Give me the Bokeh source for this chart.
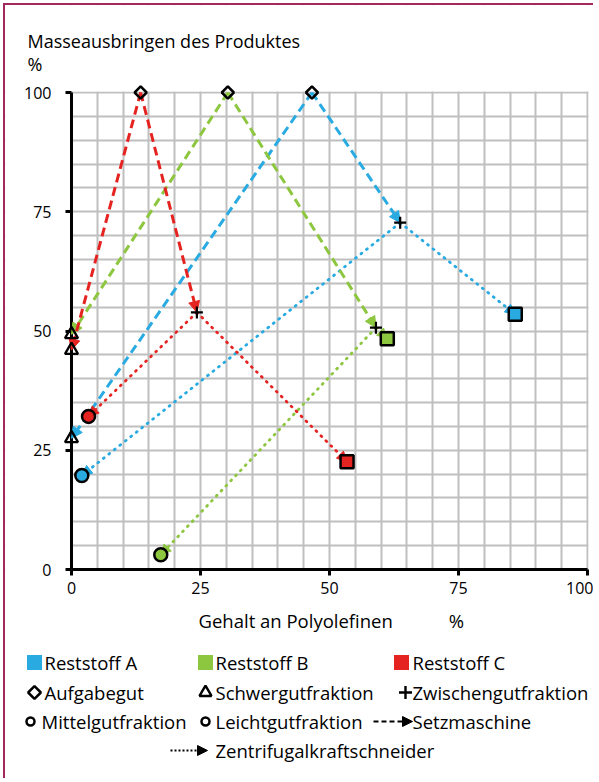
from bokeh.plotting import figure
from bokeh.models import (Range1d, FixedTicker, Arrow, NormalHead, Label, BoxAnnotation,
                          LinearAxis, Grid)
from bokeh.embed import file_html
from bokeh.resources import INLINE

# ---------------- data ----------------
materials = ["Reststoff A", "Reststoff B", "Reststoff C"]
colors = ["#29ABE2", "#8DC63F", "#E52421"]
feed_x = [46.6, 30.3, 13.4]          # Aufgabegut
feed_y = [100.0, 100.0, 100.0]
heavy_x = [0.0, 0.0, 0.0]            # Schwergutfraktion
heavy_y = [27.5, 49.3, 46.0]
inter_x = [63.7, 59.0, 24.3]         # Zwischengutfraktion
inter_y = [72.7, 50.7, 53.9]
middle_x = [2.0, 17.3, 3.3]          # Mittelgutfraktion
middle_y = [19.7, 3.1, 32.1]
light_x = [86.0, 61.2, 53.4]         # Leichtgutfraktion
light_y = [53.5, 48.4, 22.6]
axis_ticks = [0, 25, 50, 75, 100]
grid_ticks = list(range(0, 101, 5))
fraction_labels = ["Aufgabegut", "Schwergutfraktion", "Zwischengutfraktion",
                   "Mittelgutfraktion", "Leichtgutfraktion"]
process_labels = ["Setzmaschine", "Zentrifugalkraftschneider"]
x_title = "Gehalt an Polyolefinen"
y_title = "Masseausbringen des Produktes"
unit = "%"

# ---------------- layout constants (pixels) ----------------
FONT = "Open Sans"
BORDER = "#A3285F"
W, H = 590, 775
X0_PX, X100_PX = 66, 582        # pixel position of x = 0 / 100
Y100_PX, Y0_PX = 87, 564        # pixel position of y = 100 / 0
PXX = (X100_PX - X0_PX) / 100.0
PXY = (Y0_PX - Y100_PX) / 100.0

p = figure(width=W, height=H,
           x_range=Range1d(-X0_PX / PXX, (W - X0_PX) / PXX),
           y_range=Range1d(-(H - Y0_PX) / PXY, 100 + Y100_PX / PXY),
           x_axis_type=None, y_axis_type=None,
           toolbar_location=None, output_backend="svg", min_border=0)
p.extra_x_ranges = {"px": Range1d(0, W)}
p.extra_y_ranges = {"px": Range1d(H, 0)}
p.outline_line_color = None
p.background_fill_color = "white"
p.border_fill_color = "white"
p.grid.visible = False

for dim in (0, 1):
    p.add_layout(Grid(dimension=dim, ticker=FixedTicker(ticks=grid_ticks), bounds=(0, 100),
                      grid_line_color="#BFBFBF", grid_line_width=2))

# mask the grid outside the 0..100 square
for kw in (dict(right=0), dict(left=100 + 1.0 / PXX), dict(top=0), dict(bottom=100 + 1.0 / PXY)):
    p.add_layout(BoxAnnotation(fill_color="white", fill_alpha=1, line_color=None,
                               level="underlay", **kw))


def style_axis(ax):
    ax.ticker = FixedTicker(ticks=axis_ticks)
    ax.bounds = (0, 100)
    ax.fixed_location = 0
    ax.axis_line_width = 3
    ax.axis_line_color = "black"
    ax.major_tick_line_width = 3
    ax.major_tick_line_color = "black"
    ax.major_tick_in = 0
    ax.major_tick_out = 6
    ax.minor_tick_line_color = None
    ax.major_label_text_font = FONT
    ax.major_label_text_font_size = "16px"
    ax.major_label_text_color = "black"


xaxis = LinearAxis(major_label_standoff=6)
style_axis(xaxis)
p.add_layout(xaxis, "below")
yaxis = LinearAxis(major_label_standoff=14)
style_axis(yaxis)
p.add_layout(yaxis, "left")


def add_arrow(x0, y0, x1, y1, color, dash, width, cap, head, rng="default"):
    kw = {} if rng == "default" else dict(x_range_name=rng, y_range_name=rng)
    p.add_layout(Arrow(end=NormalHead(size=head, fill_color=color, line_color=color, line_width=1),
                       x_start=x0, y_start=y0, x_end=x1, y_end=y1,
                       line_color=color, line_width=width, line_dash=dash, line_cap=cap, **kw))


for i, c in enumerate(colors):
    # Setzmaschine (dashed)
    add_arrow(feed_x[i], feed_y[i], heavy_x[i], heavy_y[i], c, "9 5", 3, "butt", 11)
    add_arrow(feed_x[i], feed_y[i], inter_x[i], inter_y[i], c, "9 5", 3, "butt", 11)
    # Zentrifugalkraftschneider (dotted)
    add_arrow(inter_x[i], inter_y[i], light_x[i], light_y[i], c, "1 6", 2.8, "round", 10)
    add_arrow(inter_x[i], inter_y[i], middle_x[i], middle_y[i], c, "1 6", 2.8, "round", 10)

p.scatter(feed_x, feed_y, marker="square", angle=0.7854, size=8.5, fill_alpha=0,
          line_color="black", line_width=2.5, level="overlay")
p.scatter(heavy_x, heavy_y, marker="triangle", size=13, fill_alpha=0,
          line_color="black", line_width=2.3, level="overlay")
p.scatter(inter_x, inter_y, marker="cross", size=12, line_color="black", line_width=2.2, level="overlay")
p.scatter(middle_x, middle_y, marker="circle", size=13, fill_color=colors,
          line_color="black", line_width=2.5, level="overlay")
p.scatter(light_x, light_y, marker="square", size=13, fill_color=colors,
          line_color="black", line_width=2.5, level="overlay")


def text(x, y, t, size="18.5px", align="left"):
    p.add_layout(Label(x=x, y=y, text=t, text_font=FONT, text_font_size=size,
                       text_baseline="middle", text_align=align, text_color="black",
                       x_range_name="px", y_range_name="px"))


# axis titles (pixel space)
text(22, 35, y_title, "18px")
text(22, 58, unit, "18px")
text(193, 615, x_title)
text(451, 615, unit, align="center")

# ---------------- legend (pixel space) ----------------
rows = [657, 687, 716, 745]
col_marker = [29, 200, 396]
col_text = [39, 210, 407]
PX = dict(x_range_name="px", y_range_name="px")

for i, m in enumerate(materials):
    p.scatter([col_marker[i]], [rows[0]], marker="square", size=15, fill_color=colors[i],
              line_color=None, **PX)
    text(col_text[i], rows[0], m)

p.scatter([col_marker[0]], [rows[1]], marker="square", angle=0.7854, size=9, fill_alpha=0,
          line_color="black", line_width=2.5, **PX)
text(col_text[0], rows[1], fraction_labels[0])
p.scatter([col_marker[1]], [rows[1]], marker="triangle", size=12, fill_alpha=0,
          line_color="black", line_width=2.4, **PX)
text(col_text[1], rows[1], fraction_labels[1])
p.scatter([col_marker[2] + 4], [rows[1]], marker="cross", size=13, line_color="black",
          line_width=2.4, **PX)
text(col_text[2], rows[1], fraction_labels[2])

p.scatter([25], [rows[2]], marker="circle", size=8, fill_alpha=0, line_color="black",
          line_width=2.5, **PX)
text(36, rows[2], fraction_labels[3])
p.scatter([col_marker[1]], [rows[2]], marker="circle", size=8, fill_alpha=0, line_color="black",
          line_width=2.5, **PX)
text(col_text[1], rows[2], fraction_labels[4])

add_arrow(368, rows[2], 407, rows[2], "black", "5 3", 2, "butt", 10, rng="px")
text(col_text[2], rows[2], process_labels[0])
add_arrow(165, rows[3], 202, rows[3], "black", "2 2", 2, "butt", 10, rng="px")
text(col_text[1], rows[3], process_labels[1])

p.styles = {"margin-left": "3px", "margin-top": "3px",
            "border-left": "2px solid " + BORDER, "border-top": "2px solid " + BORDER}

open("out.html", "w").write(file_html(p, INLINE))
